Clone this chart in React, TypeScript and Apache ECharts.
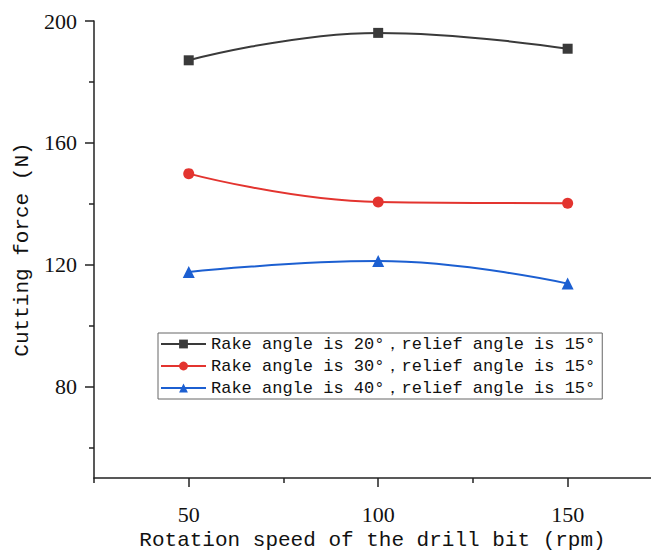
import React, { useEffect, useRef } from "react";
import * as echarts from "echarts";

const speeds = [50, 100, 150];
const seriesNames = [
  "Rake angle is 20°，relief angle is 15°",
  "Rake angle is 30°，relief angle is 15°",
  "Rake angle is 40°，relief angle is 15°",
];
const force20 = [187.1, 196.1, 190.9];
const force30 = [149.9, 140.6, 140.2];
const force40 = [117.6, 121.2, 113.8];
const yMajorTicks = [80, 120, 160, 200];
const yMinorTicks = [60, 100, 140, 180];
const xMajorTicks = [50, 100, 150];
const xMinorTicks = [25, 75, 125];

const colors = ["#3a3a3a", "#e3342f", "#1c5fd1"];
const symbols = ["rect", "circle", "triangle"];
const symbolSizes = [10, 11, 12];

export default function App() {
  const ref = useRef<HTMLDivElement>(null);
  useEffect(() => {
    if (!ref.current) return;
    const chart = echarts.init(ref.current, null, { renderer: "svg" });
    const mono = "'Liberation Mono', 'Courier New', monospace";
    const serif = "'Liberation Serif', 'Times New Roman', serif";
    const allData = [force20, force30, force40];
    chart.setOption({
      animation: false,
      backgroundColor: "#ffffff",
      grid: { left: 94, right: 0, top: 21, bottom: 75, containLabel: false, outerBoundsMode: "none" },
      legend: {
        orient: "vertical",
        left: 158,
        top: 333,
        itemWidth: 45,
        itemHeight: 11,
        itemGap: 4,
        padding: [2, 7, 2, 2],
        borderColor: "#666666",
        borderWidth: 1,
        backgroundColor: "#ffffff",
        textStyle: { fontFamily: mono, fontSize: 17, color: "#111", lineHeight: 18 },
        data: seriesNames,
      },
      xAxis: [
        {
          type: "value",
          min: 25,
          max: 172,
          position: "bottom",
          name: "Rotation speed of the drill bit (rpm)",
          nameLocation: "middle",
          nameGap: 50,
          nameTextStyle: { fontFamily: mono, fontSize: 21, color: "#111" },
          axisLine: { show: true, onZero: false, lineStyle: { color: "#222", width: 1.5 } },
          axisTick: { show: true, inside: false, length: 9, customValues: xMajorTicks, lineStyle: { color: "#222", width: 1.5 } },
          axisLabel: { customValues: xMajorTicks, fontFamily: serif, fontSize: 22, color: "#111", margin: 25 },
          splitLine: { show: false },
        },
        {
          type: "value",
          min: 25,
          max: 172,
          position: "bottom",
          axisLine: { show: false },
          axisTick: { show: true, inside: false, length: 5, customValues: xMinorTicks, lineStyle: { color: "#222", width: 1.5 } },
          axisLabel: { show: false },
          splitLine: { show: false },
        },
      ],
      yAxis: [
        {
          type: "value",
          min: 50,
          max: 200,
          position: "left",
          name: "Cutting force (N)",
          nameLocation: "middle",
          nameGap: 58,
          nameTextStyle: { fontFamily: mono, fontSize: 21, color: "#111" },
          axisLine: { show: true, onZero: false, lineStyle: { color: "#222", width: 1.5 } },
          axisTick: { show: true, inside: false, length: 9, customValues: yMajorTicks, lineStyle: { color: "#222", width: 1.5 } },
          axisLabel: { customValues: yMajorTicks, fontFamily: serif, fontSize: 22, color: "#111", margin: 17 },
          splitLine: { show: false },
        },
        {
          type: "value",
          min: 50,
          max: 200,
          position: "left",
          offset: 0,
          axisLine: { show: false },
          axisTick: { show: true, inside: false, length: 5, customValues: yMinorTicks, lineStyle: { color: "#222", width: 1.5 } },
          axisLabel: { show: false },
          splitLine: { show: false },
        },
      ],
      series: allData.map((vals, i) => ({
        name: seriesNames[i],
        type: "line",
        xAxisIndex: 0,
        yAxisIndex: 0,
        smooth: 0.45,
        symbol: symbols[i],
        symbolSize: symbolSizes[i],
        showAllSymbol: true,
        data: speeds.map((s, j) => [s, vals[j]]),
        lineStyle: { color: colors[i], width: 2 },
        itemStyle: { color: colors[i], borderWidth: 0 },
      })),
    });
    return () => chart.dispose();
  }, []);
  return (
    <div
      ref={ref}
      style={{ position: "fixed", left: 0, top: 0, width: 651, height: 553, background: "#fff" }}
    />
  );
}
